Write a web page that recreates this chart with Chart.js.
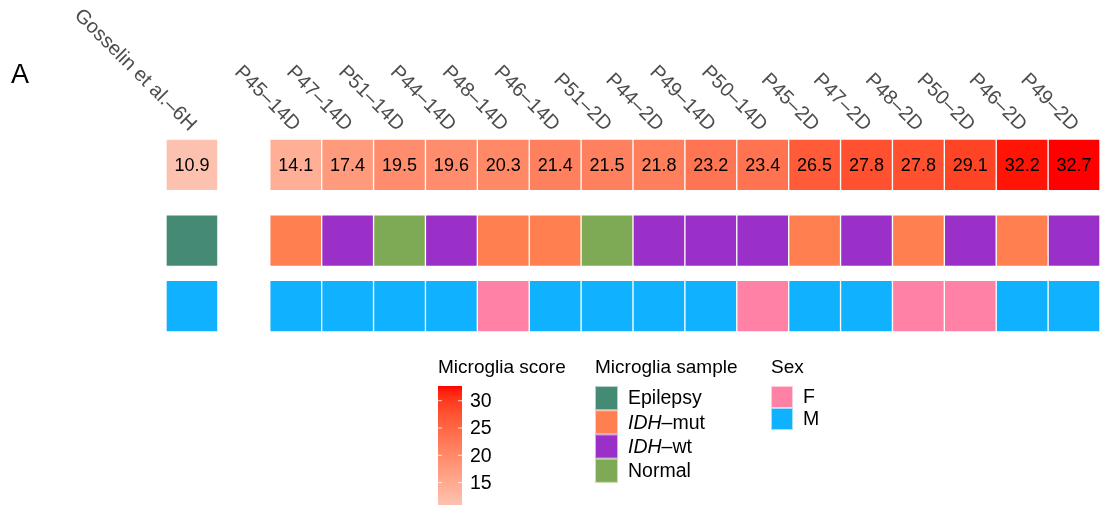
<!DOCTYPE html>
<html>
<head>
  <meta charset="utf-8">
  <title>Microglia score heatmap</title>
  <script src="https://cdn.jsdelivr.net/npm/chart.js@4.4.0/dist/chart.umd.min.js"></script>
  <style>
    html, body { margin: 0; padding: 0; background: #fff; }
    #wrap { width: 1100px; height: 507px; position: relative; }
  </style>
</head>
<body>
  <div id="wrap"><canvas id="myChart"></canvas></div>

  <script>
    // columns (second one is the empty spacer between reference and samples)
    const columns = ['Gosselin et al.\u20136H', '', 'P45\u201314D', 'P47\u201314D', 'P51\u201314D', 'P44\u201314D',
      'P48\u201314D', 'P46\u201314D', 'P51\u20132D', 'P44\u20132D', 'P49\u201314D', 'P50\u201314D',
      'P45\u20132D', 'P47\u20132D', 'P48\u20132D', 'P50\u20132D', 'P46\u20132D', 'P49\u20132D'];

    const scores = [10.9, null, 14.1, 17.4, 19.5, 19.6, 20.3, 21.4, 21.5, 21.8, 23.2, 23.4,
      26.5, 27.8, 27.8, 29.1, 32.2, 32.7];

    const samples = ['Epilepsy', null, 'IDH-mut', 'IDH-wt', 'Normal', 'IDH-wt', 'IDH-mut', 'IDH-mut',
      'Normal', 'IDH-wt', 'IDH-wt', 'IDH-wt', 'IDH-mut', 'IDH-wt', 'IDH-mut', 'IDH-wt', 'IDH-mut', 'IDH-wt'];

    const sexes = ['M', null, 'M', 'M', 'M', 'M', 'F', 'M', 'M', 'M', 'M', 'F', 'M', 'M', 'F', 'F', 'M', 'M'];

    const scoreTicks = [15, 20, 25, 30];
    const sampleLevels = ['Epilepsy', 'IDH-mut', 'IDH-wt', 'Normal'];
    const sampleColors = ['#458A74', '#FF7F50', '#9A30C8', '#7FAA55'];
    const sexLevels = ['F', 'M'];
    const sexColors = ['#FF82A6', '#10B2FF'];

    // colour ramp for the score (interpolated in Lab)
    const scoreMin = 10.9, scoreMax = 32.7;
    const lowCol = [252, 194, 175], highCol = [255, 0, 0];

    function toLab(c) {
      const lin = c.map(v => { v /= 255; return v > 0.04045 ? Math.pow((v + 0.055) / 1.055, 2.4) : v / 12.92; });
      let x = (lin[0] * 0.4124 + lin[1] * 0.3576 + lin[2] * 0.1805) / 0.95047;
      let y = (lin[0] * 0.2126 + lin[1] * 0.7152 + lin[2] * 0.0722);
      let z = (lin[0] * 0.0193 + lin[1] * 0.1192 + lin[2] * 0.9505) / 1.08883;
      const f = t => t > 0.008856 ? Math.cbrt(t) : 7.787 * t + 16 / 116;
      x = f(x); y = f(y); z = f(z);
      return [116 * y - 16, 500 * (x - y), 200 * (y - z)];
    }
    function fromLab(l) {
      let y = (l[0] + 16) / 116, x = l[1] / 500 + y, z = y - l[2] / 200;
      const g = t => t * t * t > 0.008856 ? t * t * t : (t - 16 / 116) / 7.787;
      x = g(x) * 0.95047; y = g(y); z = g(z) * 1.08883;
      const r = x * 3.2406 + y * -1.5372 + z * -0.4986;
      const gg = x * -0.9689 + y * 1.8758 + z * 0.0415;
      const b = x * 0.0557 + y * -0.2040 + z * 1.0570;
      return [r, gg, b].map(v => {
        v = v > 0.0031308 ? 1.055 * Math.pow(v, 1 / 2.4) - 0.055 : 12.92 * v;
        return Math.round(Math.max(0, Math.min(1, v)) * 255);
      });
    }
    const labLo = toLab(lowCol), labHi = toLab(highCol);
    function scoreColor(v) {
      const t = Math.max(0, Math.min(1, (v - scoreMin) / (scoreMax - scoreMin)));
      const c = fromLab(labLo.map((a, i) => a + (labHi[i] - a) * t));
      return `rgb(${c[0]},${c[1]},${c[2]})`;
    }

    // vertical bands of the three annotation rows
    const rowBands = [[0, 1], [1.47, 2.47], [2.74, 3.74]];
    const FONT = '"Liberation Sans", Arial, Helvetica, sans-serif';

    function band(values, r) {
      return values.map(v => v == null ? null : rowBands[r].slice());
    }

    const cellStyle = {
      borderColor: 'rgba(255,255,255,0.55)',
      borderWidth: 1,
      borderSkipped: false,
      grouped: false,
      barPercentage: 1,
      categoryPercentage: 1
    };

    const heatLabels = {
      id: 'heatLabels',
      afterDatasetsDraw(chart) {
        const ctx = chart.ctx;
        const meta = chart.getDatasetMeta(0);
        ctx.save();
        ctx.font = '18px ' + FONT;
        ctx.fillStyle = '#000';
        ctx.textAlign = 'center';
        ctx.textBaseline = 'middle';
        meta.data.forEach((bar, i) => {
          if (scores[i] == null) return;
          ctx.fillText(scores[i].toFixed(1), bar.x, (bar.y + bar.base) / 2 + 1);
        });
        ctx.restore();
      },
      afterDraw(chart) {
        const ctx = chart.ctx;
        const xs = chart.scales.x;
        ctx.save();

        // panel letter
        ctx.fillStyle = '#000';
        ctx.font = '27px ' + FONT;
        ctx.textAlign = 'left';
        ctx.textBaseline = 'middle';
        ctx.fillText('A', 11, 76);

        // rotated column names
        ctx.font = '20px ' + FONT;
        ctx.fillStyle = '#4d4d4d';
        columns.forEach((lab, i) => {
          if (!lab) return;
          ctx.save();
          ctx.translate(xs.getPixelForValue(i) + 1, 128);
          ctx.rotate(Math.PI / 4);
          ctx.textAlign = 'right';
          ctx.textBaseline = 'middle';
          ctx.fillText(lab, 0, 0);
          ctx.restore();
        });

        // legend: score gradient
        ctx.fillStyle = '#000';
        ctx.textAlign = 'left';
        ctx.textBaseline = 'middle';
        ctx.font = '19px ' + FONT;
        ctx.fillText('Microglia score', 438, 368);
        const gx = 438, gw = 24, gTop = 386, gBot = 505;
        const grad = ctx.createLinearGradient(0, gBot, 0, gTop);
        for (let k = 0; k <= 20; k++) {
          grad.addColorStop(k / 20, scoreColor(scoreMin + (scoreMax - scoreMin) * k / 20));
        }
        ctx.fillStyle = grad;
        ctx.fillRect(gx, gTop, gw, gBot - gTop);
        ctx.font = '19.5px ' + FONT;
        scoreTicks.forEach(t => {
          const y = gBot - (t - scoreMin) / (scoreMax - scoreMin) * (gBot - gTop);
          ctx.strokeStyle = 'rgba(255,255,255,0.8)';
          ctx.lineWidth = 1;
          ctx.beginPath();
          ctx.moveTo(gx, y); ctx.lineTo(gx + 4, y);
          ctx.moveTo(gx + gw - 4, y); ctx.lineTo(gx + gw, y);
          ctx.stroke();
          ctx.fillStyle = '#000';
          ctx.fillText(String(t), 470, y + 1);
        });

        // legend: categorical swatches
        function swatchLegend(title, levels, colors, x, h, w) {
          ctx.font = '19px ' + FONT;
          ctx.fillStyle = '#000';
          ctx.fillText(title, x, 368);
          levels.forEach((lv, k) => {
            const y = 386 + k * h;
            ctx.fillStyle = colors[k];
            ctx.fillRect(x, y, w, h);
            ctx.strokeStyle = 'rgba(255,255,255,0.6)';
            ctx.strokeRect(x + 0.5, y + 0.5, w - 1, h - 1);
            ctx.fillStyle = '#000';
            ctx.font = '19.5px ' + FONT;
            const ty = y + h / 2 + 1;
            const m = lv.match(/^IDH-(.*)$/);
            if (m) {
              ctx.font = 'italic 19.5px ' + FONT;
              ctx.fillText('IDH', x + w + 10, ty);
              const wIdh = ctx.measureText('IDH').width;
              ctx.font = '19.5px ' + FONT;
              ctx.fillText('\u2013' + m[1], x + w + 10 + wIdh, ty);
            } else {
              ctx.fillText(lv, x + w + 10, ty);
            }
          });
        }
        swatchLegend('Microglia sample', sampleLevels, sampleColors, 595, 24.2, 23);
        swatchLegend('Sex', sexLevels, sexColors, 771, 22, 22);

        ctx.restore();
      }
    };

    const ctx = document.getElementById('myChart').getContext('2d');
    const myChart = new Chart(ctx, {
      type: 'bar',
      data: {
        labels: columns,
        datasets: [
          Object.assign({
            label: 'Microglia score',
            data: band(scores, 0),
            backgroundColor: scores.map(v => v == null ? 'rgba(0,0,0,0)' : scoreColor(v))
          }, cellStyle),
          Object.assign({
            label: 'Microglia sample',
            data: band(samples, 1),
            backgroundColor: samples.map(s => s == null ? 'rgba(0,0,0,0)' : sampleColors[sampleLevels.indexOf(s)])
          }, cellStyle),
          Object.assign({
            label: 'Sex',
            data: band(sexes, 2),
            backgroundColor: sexes.map(s => s == null ? 'rgba(0,0,0,0)' : sexColors[sexLevels.indexOf(s)])
          }, cellStyle)
        ]
      },
      options: {
        responsive: true,
        maintainAspectRatio: false,
        animation: false,
        layout: { padding: { left: 166, right: 0, top: 139, bottom: 175 } },
        scales: {
          x: { display: false, offset: true },
          y: { display: false, min: 0, max: 3.74, reverse: true }
        },
        plugins: {
          legend: { display: false },
          tooltip: { enabled: false }
        }
      },
      plugins: [heatLabels]
    });
  </script>
</body>
</html>
